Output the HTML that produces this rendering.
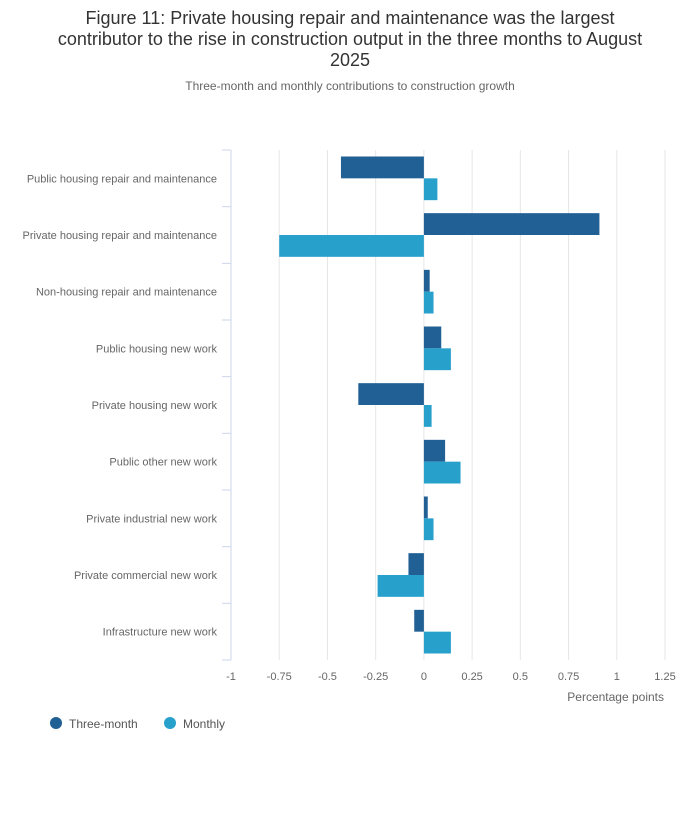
<!DOCTYPE html>
<html><head><meta charset="utf-8">
<style>
body{margin:0;background:#fff;font-family:"Liberation Sans",sans-serif;}
svg text{font-family:"Liberation Sans",sans-serif;}
</style></head>
<body>
<svg width="700" height="810" viewBox="0 0 700 810">
<text x="350" y="24" text-anchor="middle" font-size="18" fill="#333">Figure 11: Private housing repair and maintenance was the largest</text>
<text x="350" y="45" text-anchor="middle" font-size="18" fill="#333">contributor to the rise in construction output in the three months to August</text>
<text x="350" y="66" text-anchor="middle" font-size="18" fill="#333">2025</text>
<text x="350" y="90" text-anchor="middle" font-size="12" fill="#666">Three-month and monthly contributions to construction growth</text>
<g id="grid"></g>
<g id="bars"></g>
<g id="axes"></g>
<text x="664" y="701" text-anchor="end" font-size="12" fill="#666">Percentage points</text>
<g>
<g><circle cx="56" cy="723" r="6" fill="#206095"/><text x="69" y="728" font-size="12" fill="#555">Three-month</text></g>
<g><circle cx="170" cy="723" r="6" fill="#27a0cc"/><text x="183" y="728" font-size="12" fill="#555">Monthly</text></g>
</g>
</svg>
<script>
const categories=["Public housing repair and maintenance","Private housing repair and maintenance","Non-housing repair and maintenance","Public housing new work","Private housing new work","Public other new work","Private industrial new work","Private commercial new work","Infrastructure new work"];
const threeMonth=[-0.43,0.91,0.03,0.09,-0.34,0.11,0.02,-0.08,-0.05];
const monthly=[0.07,-0.75,0.05,0.14,0.04,0.19,0.05,-0.24,0.14];
const ticks=[-1,-0.75,-0.5,-0.25,0,0.25,0.5,0.75,1,1.25];
const NS="http://www.w3.org/2000/svg";
const x0=231,x1=665,vmin=-1,vmax=1.25,plotTop=150,plotBot=660;
const xs=v=>x0+(v-vmin)/(vmax-vmin)*(x1-x0);
const band=(plotBot-plotTop)/categories.length;
function mk(tag,attrs,parent){const e=document.createElementNS(NS,tag);for(const k in attrs)e.setAttribute(k,attrs[k]);document.getElementById(parent).appendChild(e);return e;}
ticks.forEach((t,i)=>{
  if(i>0){const g=mk('line',{x1:xs(t),x2:xs(t),y1:plotTop,y2:plotBot,stroke:'#e6e6e6','stroke-width':1},'grid');
  
  }
  const l=mk('text',{x:xs(t),y:680,'text-anchor':'middle','font-size':11,fill:'#666'},'axes');
  l.textContent=String(t);
  
  
});
const ax=mk('line',{x1:x0,x2:x0,y1:plotTop,y2:plotBot,stroke:'#ccd6eb','stroke-width':1},'axes');


for(let i=0;i<=categories.length;i++){
  const y=plotTop+i*band;
  const tk=mk('line',{x1:x0-9,x2:x0,y1:y,y2:y,stroke:'#ccd6eb','stroke-width':1},'axes');
  
  
}
const pad=6.5,bh=(band-2*pad)/2;
categories.forEach((c,i)=>{
  const y=plotTop+i*band;
  const lb=mk('text',{x:217,y:y+band/2+4,'text-anchor':'end','font-size':11,fill:'#666'},'axes');
  lb.textContent=c;
  
  
  [[threeMonth[i],'#206095',0,'bar-three-month'],[monthly[i],'#27a0cc',1,'bar-monthly']].forEach(([v,col,k,nm])=>{
    const a=xs(0),b=xs(v);
    const r=mk('rect',{x:Math.min(a,b),y:y+pad+k*bh,width:Math.abs(b-a),height:bh,fill:col},'bars');
    
    
  });
});
</script>
</body></html>
